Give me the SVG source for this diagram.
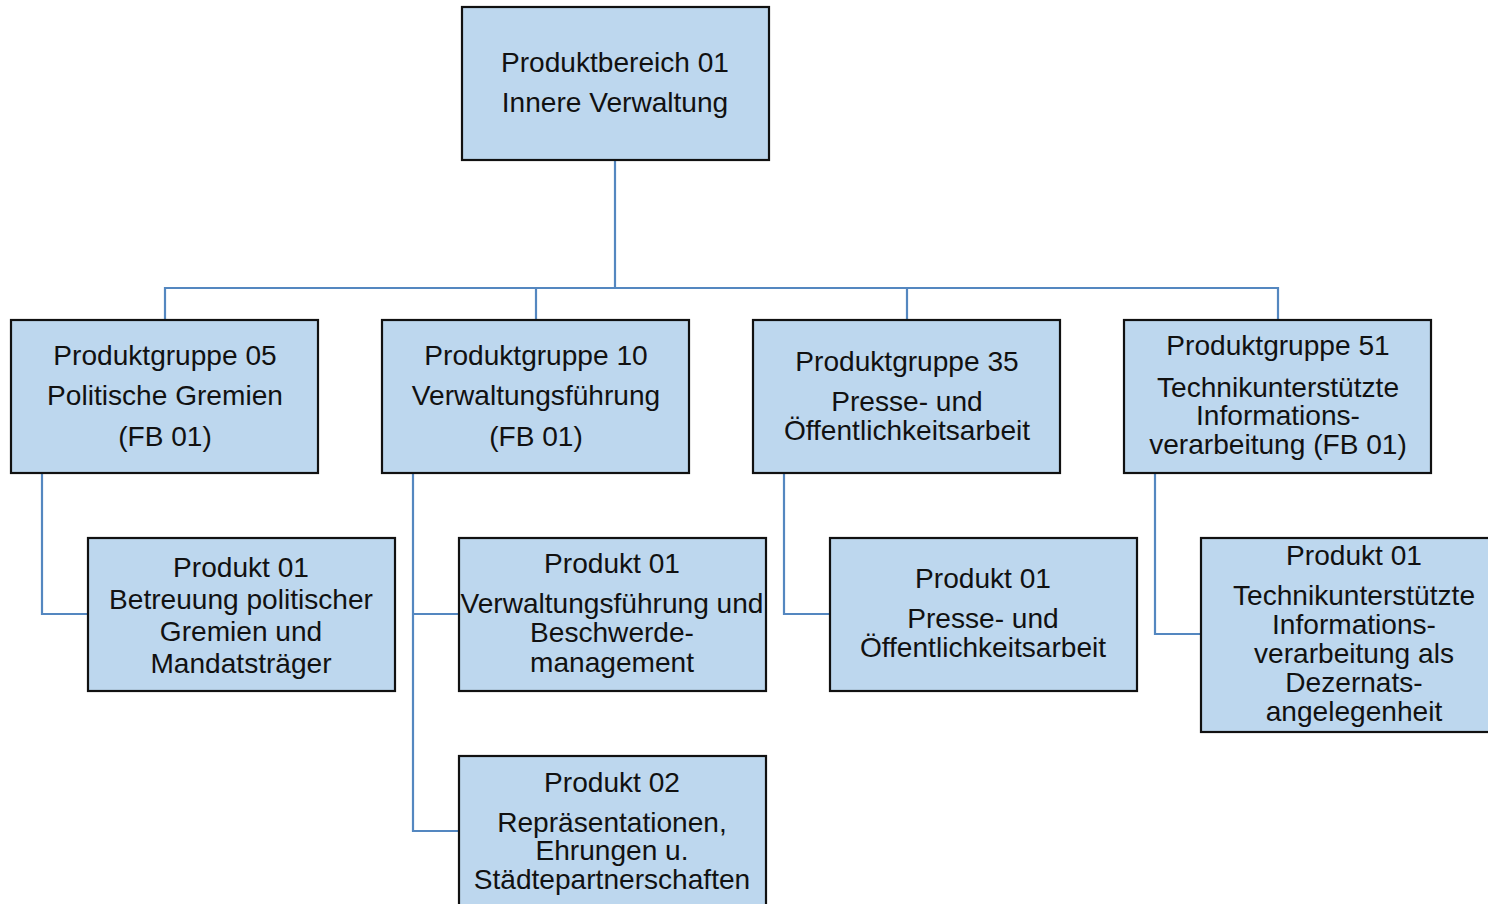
<svg xmlns="http://www.w3.org/2000/svg" width="1488" height="904" viewBox="0 0 1488 904">
<style>
.box{fill:#bdd7ee;stroke:#111;stroke-width:2.2}
.t{font-family:"Liberation Sans",Arial,sans-serif;font-size:28.1px;fill:#111;text-anchor:middle}
.c{fill:none;stroke:#5487c0;stroke-width:2.2}
</style>
<rect width="1488" height="904" fill="#fff"/>
<g id="connectors">
<path class="c" d="M615 160V288M165 320V288H1278V320M536 288V320M907 288V320"/>
<path class="c" d="M42 473V614H88"/>
<path class="c" d="M413 473V831H459M413 614H459"/>
<path class="c" d="M784 473V614H830"/>
<path class="c" d="M1155 473V634H1201"/>
</g>
<g id="pb01"><rect class="box" x="462" y="7" width="307" height="153"/>
<text class="t" x="615" y="72">Produktbereich 01</text><text class="t" x="615" y="112">Innere Verwaltung</text></g>
<g id="pg05"><rect class="box" x="11" y="320" width="307" height="153"/>
<text class="t" x="165" y="365">Produktgruppe 05</text><text class="t" x="165" y="405">Politische Gremien</text><text class="t" x="165" y="446">(FB 01)</text></g>
<g id="pg10"><rect class="box" x="382" y="320" width="307" height="153"/>
<text class="t" x="536" y="365">Produktgruppe 10</text><text class="t" x="536" y="405">Verwaltungsführung</text><text class="t" x="536" y="446">(FB 01)</text></g>
<g id="pg35"><rect class="box" x="753" y="320" width="307" height="153"/>
<text class="t" x="907" y="371">Produktgruppe 35</text><text class="t" x="907" y="411">Presse- und</text><text class="t" x="907" y="440">Öffentlichkeitsarbeit</text></g>
<g id="pg51"><rect class="box" x="1124" y="320" width="307" height="153"/>
<text class="t" x="1278" y="355">Produktgruppe 51</text><text class="t" x="1278" y="397">Technikunterstützte</text><text class="t" x="1278" y="425">Informations-</text><text class="t" x="1278" y="454">verarbeitung (FB 01)</text></g>
<g id="p05-01"><rect class="box" x="88" y="538" width="307" height="153"/>
<text class="t" x="241" y="577">Produkt 01</text><text class="t" x="241" y="609">Betreuung politischer</text><text class="t" x="241" y="641">Gremien und</text><text class="t" x="241" y="673">Mandatsträger</text></g>
<g id="p10-01"><rect class="box" x="459" y="538" width="307" height="153"/>
<text class="t" x="612" y="573">Produkt 01</text><text class="t" x="612" y="613">Verwaltungsführung und</text><text class="t" x="612" y="642">Beschwerde-</text><text class="t" x="612" y="672">management</text></g>
<g id="p10-02"><rect class="box" x="459" y="756" width="307" height="160"/>
<text class="t" x="612" y="792">Produkt 02</text><text class="t" x="612" y="832">Repräsentationen,</text><text class="t" x="612" y="860">Ehrungen u.</text><text class="t" x="612" y="889">Städtepartnerschaften</text></g>
<g id="p35-01"><rect class="box" x="830" y="538" width="307" height="153"/>
<text class="t" x="983" y="588">Produkt 01</text><text class="t" x="983" y="628">Presse- und</text><text class="t" x="983" y="657">Öffentlichkeitsarbeit</text></g>
<g id="p51-01"><rect class="box" x="1201" y="538" width="307" height="194"/>
<text class="t" x="1354" y="565">Produkt 01</text><text class="t" x="1354" y="605">Technikunterstützte</text><text class="t" x="1354" y="634">Informations-</text><text class="t" x="1354" y="663">verarbeitung als</text><text class="t" x="1354" y="692">Dezernats-</text><text class="t" x="1354" y="721">angelegenheit</text></g>
</svg>
